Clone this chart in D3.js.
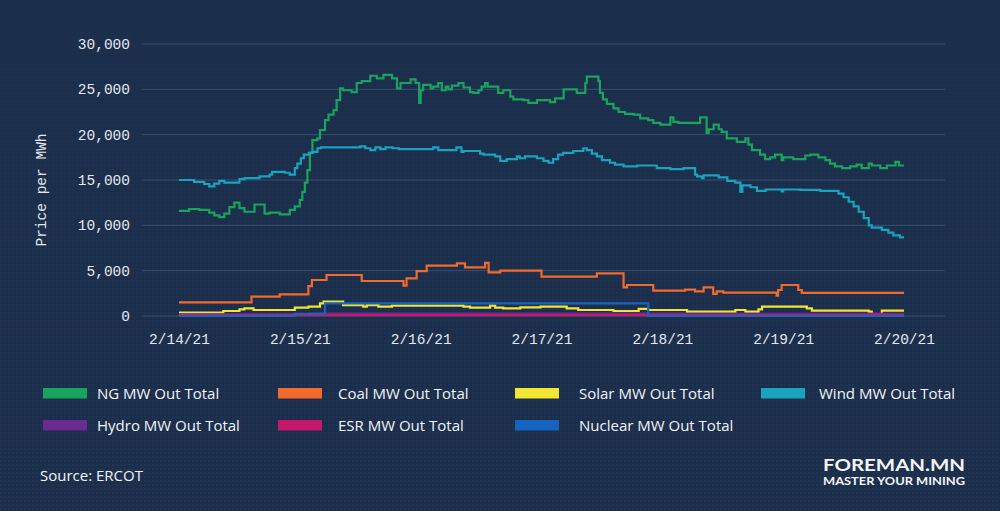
<!DOCTYPE html>
<html><head><meta charset="utf-8">
<script src="https://cdn.jsdelivr.net/npm/d3@7"></script>
<style>body{margin:0;background:#1b2e4c;} svg{display:block}</style>
</head><body>
<svg id="c" width="1000" height="511"></svg>
<script>
// ---------- DATA ----------
const startDate = new Date(2021, 1, 14);
const dayTicks = ["2021-02-14","2021-02-15","2021-02-16","2021-02-17","2021-02-18","2021-02-19","2021-02-20"];
const yTicks = [0, 5000, 10000, 15000, 20000, 25000, 30000];
const seriesNames = ["NG MW Out Total","Coal MW Out Total","Solar MW Out Total","Wind MW Out Total","Hydro MW Out Total","ESR MW Out Total","Nuclear MW Out Total"];
const seriesColors = ["#19a45e","#f26b2c","#f2e631","#18a3bf","#6b2a90","#c4186d","#1565c0"];
// [hours since 2/14/21 00:00, MW]
const ngValues = [[0,11600],[2,11800],[4,11700],[6,11400],[7,11100],[8,10900],[9,11300],[10,12000],[11,12500],[12,11900],[13,11500],[15,12300],[17,11300],[18,11400],[20,11200],[22,11700],[23,12100],[24,12800],[24.5,13700],[25,14700],[25.5,16100],[26,18000],[26.5,19400],[27.5,19600],[28,20500],[29,21600],[29.7,22200],[30.7,22700],[31.3,23800],[32,25100],[32.6,24900],[34.3,24700],[35.3,25700],[36.3,25900],[38,26500],[39.3,26200],[40.6,26600],[42.3,26200],[43.3,25100],[44,25700],[46,26100],[47,25700],[47.7,23500],[48,24900],[48.5,25500],[50,25100],[50.5,25300],[51.5,25700],[52.2,24900],[53,25300],[53.5,25000],[54.2,25400],[55.5,25700],[56.5,25200],[57.8,24700],[58.5,24600],[59.5,24900],[60.1,25300],[60.8,25700],[61.3,25300],[63.4,24600],[64.4,24900],[65.8,24200],[66.4,23900],[68.4,23800],[69.4,23500],[71.1,23800],[73.7,23600],[74.7,24000],[76.4,25000],[79,24600],[80.7,25700],[81,26400],[83.3,25900],[83.6,24600],[84.2,23900],[85,23400],[86.3,22900],[87.3,22500],[88.6,22300],[90.3,22200],[91.6,21800],[93.2,21600],[94.2,21300],[95.6,21100],[97.6,21900],[98.2,21400],[99.2,21300],[103.5,21900],[104.8,20200],[105.2,20600],[106.2,21100],[107.2,20600],[107.8,20300],[108.8,19600],[110.8,19200],[112.5,19600],[113.1,18900],[113.8,18300],[115.4,17800],[116.4,17300],[117.4,17500],[118.4,17800],[119.7,17200],[120,17500],[122,17300],[124.4,17700],[125.4,17800],[127,17500],[128.4,17200],[129.3,16800],[130.3,16500],[131.7,16300],[133.3,16500],[134.6,16700],[135.6,16300],[137,16800],[137.6,16600],[139.3,16300],[140.6,16600],[142.3,17000],[143,16600],[144,16600]];
const coalValues = [[0,1500],[14.4,2130],[20,2390],[25.7,3300],[26.4,3970],[29.3,4520],[36.3,3860],[44.6,3340],[45.2,4160],[47.2,4960],[49.2,5550],[55.2,5810],[56.8,5370],[60.8,5850],[61.5,4820],[63.8,5000],[72,4340],[83,4710],[88.3,3150],[89,3420],[94.2,2790],[100.5,2900],[102.5,2720],[104.2,3160],[106.1,2450],[106.8,2720],[108.1,2580],[118.7,2250],[119,2870],[119.7,3420],[123,2870],[123.7,2550],[144,2550]];
const solarValues = [[0,370],[8.8,550],[12,740],[13,850],[14.8,660],[23,920],[25.7,1030],[28,1400],[28.7,1580],[32.6,1210],[36.6,1030],[37.3,1210],[39.6,1030],[42.3,1140],[56.5,1030],[57.8,920],[61.8,1140],[62.8,920],[64.4,850],[67.8,960],[71.8,1030],[77,850],[79.3,660],[86.3,550],[91.3,780],[93.2,660],[100.9,480],[110.5,660],[112.5,480],[115.1,740],[115.8,1030],[124.7,850],[125.7,590],[137,480],[137.6,0],[139.6,590],[144,590]];
const windValues = [[0,15000],[3,14800],[5,14560],[6,14300],[7,14600],[8,14900],[9,14700],[12,15100],[13,15200],[16,15400],[18,15600],[18.5,15900],[21,15800],[22,15600],[23,16300],[23.5,16800],[24.2,17400],[24.8,17800],[25.8,18000],[26.5,18100],[27.5,18500],[28.2,18600],[36,18700],[37,18500],[38,18300],[39,18600],[40,18400],[41,18600],[42.4,18500],[43.7,18400],[50.5,18600],[51.5,18300],[55.1,18600],[56.1,18100],[56.5,18200],[59.8,17900],[60.5,17800],[62.8,17600],[63.8,17100],[65.1,17300],[67.1,17600],[67.7,17400],[68.7,17600],[71.1,17400],[72.4,17100],[73.4,16900],[74.3,17300],[75.3,17800],[76.3,18000],[78.3,18200],[80.3,18500],[81,18300],[82,17900],[83,17600],[84,17200],[85.6,16900],[86.6,16700],[88.3,16500],[91,16600],[94.9,16300],[97.6,16200],[100.2,16300],[102.5,15600],[102.9,15400],[103.9,15200],[104.2,15500],[107.2,15300],[108.9,14900],[110.5,14700],[111.5,13700],[111.9,14400],[113.5,14200],[114.8,13800],[116.5,13950],[119.7,13750],[120,13950],[123.4,13900],[127.4,13800],[131,13500],[132,13100],[133,12600],[134,12100],[135,11500],[136,10800],[137,10000],[137.6,9740],[139.6,9500],[140.9,9200],[141.9,8900],[143.2,8680],[144,8680]];
const hydroValues = [[0,180],[26,260],[100,240],[144,240]];
const esrValues = [[0,100],[137.6,250],[139.6,100],[144,100]];
const nuclearValues = [[0,0],[23,250],[29,1400],[93.2,0],[144,0]];
const allSeries = [ngValues, coalValues, solarValues, windValues, hydroValues, esrValues, nuclearValues];

// ---------- CHART ----------
const svg = d3.select("#c");
const W = 1000, H = 511;
const defs = svg.append("defs");
const pat = defs.append("pattern").attr("id","dots").attr("width",4).attr("height",4).attr("patternUnits","userSpaceOnUse");
pat.append("circle").attr("cx",1).attr("cy",1).attr("r",0.9).attr("fill","#ffffff");
const grad = defs.append("linearGradient").attr("id","fade").attr("x1",0).attr("y1",0).attr("x2",0).attr("y2",1);
grad.append("stop").attr("offset","0").attr("stop-color","#fff").attr("stop-opacity",0.2);
grad.append("stop").attr("offset","1").attr("stop-color","#fff").attr("stop-opacity",1);
const mask = defs.append("mask").attr("id","m");
mask.append("rect").attr("width",W).attr("height",H).attr("fill","url(#fade)");

svg.append("rect").attr("width",W).attr("height",H).attr("fill","#1b2e4c");
svg.append("rect").attr("width",W).attr("height",H).attr("fill","url(#dots)").attr("opacity",0.045).attr("mask","url(#m)");

const plotL = 142, plotR = 945;
const x = d3.scaleTime().domain([startDate, d3.timeHour.offset(startDate, 144)]).range([179, 904]);
const y = d3.scaleLinear().domain([0, 30000]).range([316, 44]);
const toDate = h => new Date(startDate.getTime() + h*3600000);

// grid
svg.append("g").selectAll("line").data(yTicks).join("line")
  .attr("x1",plotL).attr("x2",plotR).attr("y1",d=>y(d)).attr("y2",d=>y(d))
  .attr("stroke","#3a4f70").attr("stroke-width",1);

// y axis
const yAxis = svg.append("g").attr("transform","translate(130,0)")
  .call(d3.axisLeft(y).tickValues(yTicks).tickSize(0).tickPadding(0).tickFormat(d3.format(",")));
yAxis.select(".domain").remove();
yAxis.selectAll("text").attr("font-family","'Liberation Mono', 'DejaVu Sans Mono', monospace").attr("font-size",14.5).attr("fill","#e3e8ee");

// x axis
const xAxis = svg.append("g").attr("transform","translate(0,334)")
  .call(d3.axisBottom(x).tickValues(dayTicks.map(s=>d3.timeParse("%Y-%m-%d")(s))).tickSize(0).tickPadding(0).tickFormat(d3.timeFormat("%-m/%-d/%y")));
xAxis.select(".domain").remove();
xAxis.selectAll("text").attr("font-family","'Liberation Mono', 'DejaVu Sans Mono', monospace").attr("font-size",14.5).attr("fill","#e3e8ee").attr("dy","0.71em");

// y label
svg.append("text").attr("transform","translate(46,190) rotate(-90)").attr("text-anchor","middle")
  .attr("font-family","'Liberation Mono', 'DejaVu Sans Mono', monospace").attr("font-size",14.5).attr("fill","#e3e8ee")
  .text("Price per MWh");

// lines
const line = d3.line().curve(d3.curveStepAfter).x(d=>x(toDate(d[0]))).y(d=>y(d[1]));
svg.append("g").selectAll("path").data(allSeries).join("path")
  .attr("d", line).attr("fill","none")
  .attr("stroke",(d,i)=>seriesColors[i]).attr("stroke-width",2.2).attr("stroke-linejoin","miter");

// legend
const colX = [43, 278, 515, 761];
const txtX = [97, 338, 579, 819];
const rowY = [388, 420];
const leg = svg.append("g");
seriesNames.forEach((n,i)=>{
  const c = i % 4, r = Math.floor(i/4);
  leg.append("rect").attr("x",colX[c]).attr("y",rowY[r]).attr("width",44).attr("height",10.5).attr("fill",seriesColors[i]);
  leg.append("text").attr("x",txtX[c]).attr("y",rowY[r]+10.5).attr("font-family","'Open Sans', sans-serif").attr("font-size",15)
    .attr("fill","#f2f4f7").text(n);
});

svg.append("text").attr("x",40).attr("y",481).attr("font-family","'Open Sans', sans-serif").attr("font-size",15).attr("fill","#f2f4f7").text("Source: ERCOT");
svg.append("text").attr("x",823).attr("y",470.5).attr("font-family","Lato, sans-serif").attr("font-weight",700).attr("font-size",17)
  .attr("fill","#f4f6f8").attr("textLength",142).attr("lengthAdjust","spacingAndGlyphs").text("FOREMAN.MN");
svg.append("text").attr("x",823).attr("y",485).attr("font-family","Lato, sans-serif").attr("font-weight",700).attr("font-size",10.5)
  .attr("fill","#f4f6f8").attr("textLength",142).attr("lengthAdjust","spacingAndGlyphs").text("MASTER YOUR MINING");
</script>
</body></html>
